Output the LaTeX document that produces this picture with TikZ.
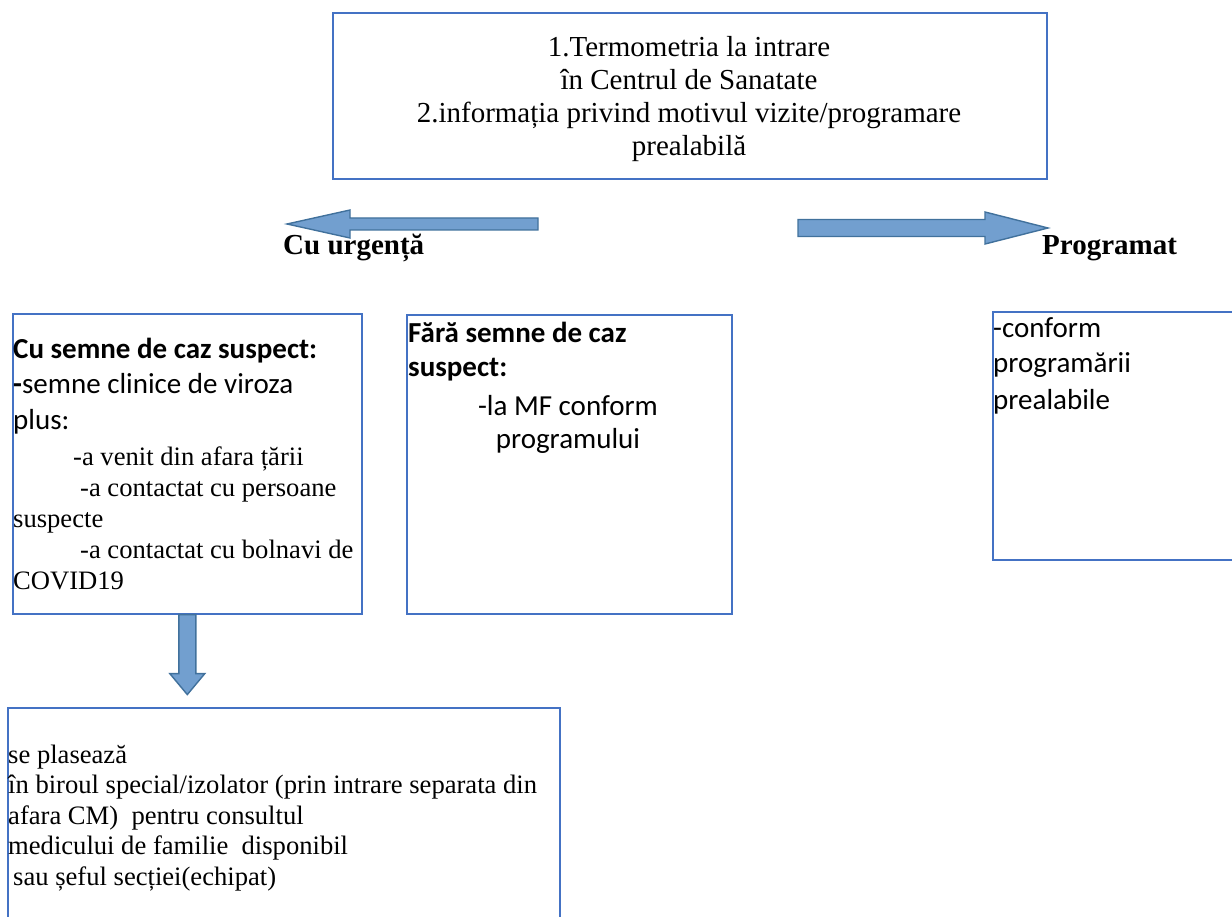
\documentclass[tikz,border=0pt]{standalone}
\usepackage{fontspec}
\setmainfont{Liberation Serif}
\newfontfamily\calibri{Carlito}
\usetikzlibrary{positioning, calc}
\definecolor{boxblue}{RGB}{68,114,196}
\definecolor{arrowfill}{RGB}{114,159,207}
\definecolor{arrowedge}{RGB}{65,113,156}
\tikzstyle{block} = [rectangle, draw=boxblue, line width=1.6pt, inner sep=0pt, anchor=north west]
\tikzstyle{bigarrow} = [draw=arrowedge, fill=arrowfill, line width=1.4pt, line join=miter]
\tikzstyle{roman} = [inner sep=0pt, font=\fontsize{26.6}{31}\selectfont]
\tikzstyle{sans} = [inner sep=0pt, font=\calibri\fontsize{29}{35.5}\selectfont]
\tikzstyle{heading} = [inner sep=0pt, anchor=base west, font=\fontsize{29}{33}\selectfont\bfseries]

\begin{document}
\begin{tikzpicture}[x=1pt, y=-1pt]
    \useasboundingbox (0,0) rectangle (1232,917);

    % Boxes
    \node [block, minimum width=714pt, minimum height=166pt] (entry) at (332,12) {};
    \node [block, minimum width=349pt, minimum height=300pt] (suspect) at (12,313) {};
    \node [block, minimum width=325pt, minimum height=299pt] (nosuspect) at (406,314) {};
    \node [block, minimum width=260pt, minimum height=248pt] (scheduled) at (992,311) {};
    \node [block, minimum width=552pt, minimum height=240pt] (isolation) at (7,707) {};

    % Texts (base = last line)
    \node [roman, align=center, anchor=base, font=\fontsize{29}{33.3}\selectfont] (entrytext) at (689,156)
        {1.Termometria la intrare\\în Centrul de Sanatate\\2.informația privind motivul vizite/programare\\prealabilă};
    \node [heading] (urgent) at (283,255) {Cu urgență};
    \node [heading] (planned) at (1042,255) {Programat};
    \node [sans, align=left, anchor=base west] (suspecthead) at (13,429)
        {\textbf{Cu semne de caz suspect:}\\\textbf{-}semne clinice de viroza\\plus:};
    \node [roman, align=left, anchor=base west] (suspectlist) at (13,589)
        {\hspace*{60pt}-a venit din afara țării\\\hspace*{67pt}-a contactat cu persoane\\suspecte\\\hspace*{67pt}-a contactat cu bolnavi de\\COVID19};
    \node [sans, align=left, anchor=base west, font=\calibri\fontsize{29}{34}\selectfont\bfseries] (nosuspecthead) at (408,377)
        {Fără semne de caz\\suspect:};
    \node [sans, align=center, anchor=base, font=\calibri\fontsize{29}{33}\selectfont] (nosuspectlist) at (568,448)
        {-la MF conform\\programului};
    \node [sans, align=left, anchor=base west, font=\calibri\fontsize{29}{36}\selectfont] (scheduledtext) at (993,409)
        {-conform\\programării\\prealabile};
    \node [roman, align=left, anchor=base west, font=\fontsize{26.6}{30.5}\selectfont] (isolationtext) at (8,885)
        {se plasează\\în biroul special/izolator (prin intrare separata din\\afara CM)~~pentru consultul\\medicului de familie~~disponibil\\\hspace*{5pt}sau șeful secției(echipat)};

    % Arrows
    \coordinate (urgtail) at (538,224);
    \coordinate (urgtip) at (287,224);
    \coordinate (plantail) at (798,228);
    \coordinate (plantip) at (1048,228);
    \coordinate (isotip) at ($(suspect.south)+(0,80)$);
    \draw [bigarrow] ($(urgtail)+(0,-6)$) -- ($(urgtip)+(63,-6)$) -- ($(urgtip)+(63,-14)$) -- (urgtip)
        -- ($(urgtip)+(63,14)$) -- ($(urgtip)+(63,6)$) -- ($(urgtail)+(0,6)$) -- cycle;
    \draw [bigarrow] ($(plantail)+(0,-8.5)$) -- ($(plantip)+(-63,-8.5)$) -- ($(plantip)+(-63,-16)$) -- (plantip)
        -- ($(plantip)+(-63,16)$) -- ($(plantip)+(-63,8.5)$) -- ($(plantail)+(0,8.5)$) -- cycle;
    \draw [bigarrow] ($(suspect.south)+(-8.5,0)$) -- ($(isotip)+(-8.5,-21)$) -- ($(isotip)+(-17.5,-21)$) -- (isotip)
        -- ($(isotip)+(17.5,-21)$) -- ($(isotip)+(8.5,-21)$) -- ($(suspect.south)+(8.5,0)$) -- cycle;

\end{tikzpicture}
\end{document}
